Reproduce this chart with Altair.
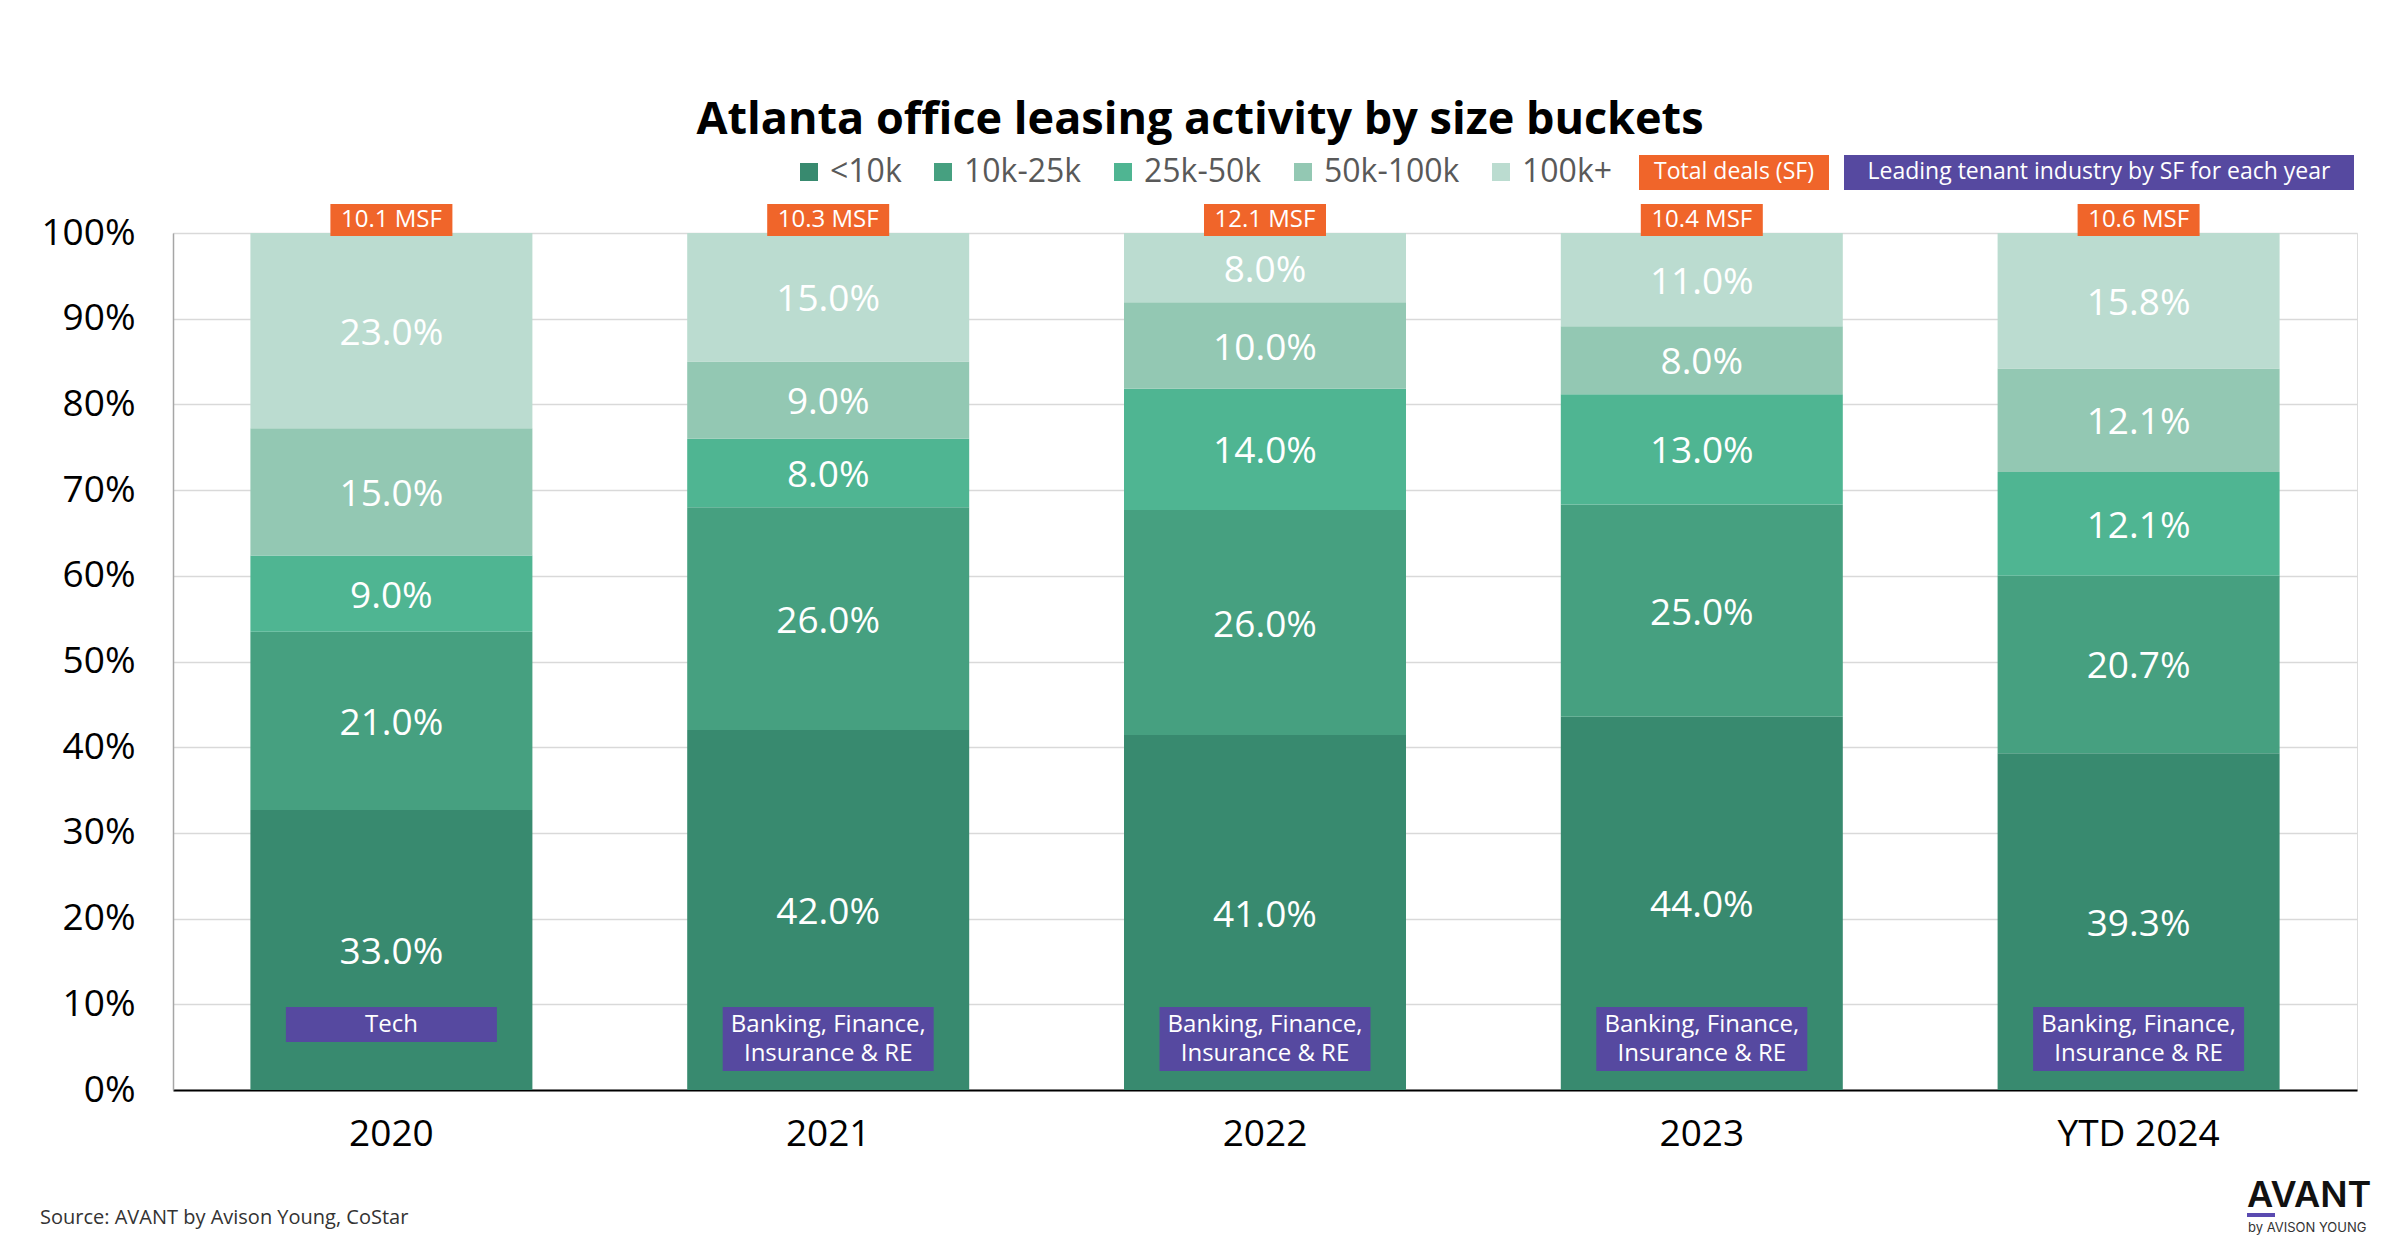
import altair as alt
import pandas as pd

years = ["2020", "2021", "2022", "2023", "YTD 2024"]
buckets = ["<10k", "10k-25k", "25k-50k", "50k-100k", "100k+"]
lt10k = [33.0, 42.0, 41.0, 44.0, 39.3]
k10_25 = [21.0, 26.0, 26.0, 25.0, 20.7]
k25_50 = [9.0, 8.0, 14.0, 13.0, 12.1]
k50_100 = [15.0, 9.0, 10.0, 8.0, 12.1]
k100_plus = [23.0, 15.0, 8.0, 11.0, 15.8]
total_deals = ["10.1 MSF", "10.3 MSF", "12.1 MSF", "10.4 MSF", "10.6 MSF"]
industries = [
    "Tech",
    "Banking, Finance,\nInsurance & RE",
    "Banking, Finance,\nInsurance & RE",
    "Banking, Finance,\nInsurance & RE",
    "Banking, Finance,\nInsurance & RE",
]
colors = ["#388A6F", "#46A080", "#4FB592", "#93C8B3", "#BBDCD0"]
ORANGE = "#F0652A"
PURPLE = "#5649A0"
title_text = "Atlanta office leasing activity by size buckets"
legend_notes = ["Total deals (SF)", "Leading tenant industry by SF for each year"]
source_text = ["Source: AVANT by Avison Young, CoStar"]
logo_text = ["AVANT", "by AVISON YOUNG"]

series = [lt10k, k10_25, k25_50, k50_100, k100_plus]
rows = []
for bi, (b, vals) in enumerate(zip(buckets, series)):
    for y, v in zip(years, vals):
        rows.append({"year": y, "bucket": b, "value": v, "idx": bi})
df = pd.DataFrame(rows)
ann = pd.DataFrame({"year": years, "deals": total_deals, "industry": industries})

FONT = "Open Sans"

xenc = alt.X(
    "year:N",
    sort=years,
    scale=alt.Scale(domain=years, paddingInner=0.355, paddingOuter=0.1775),
    axis=alt.Axis(
        title=None, labelAngle=0, labelFontSize=37, labelColor="#000000",
        labelFont=FONT, labelPadding=26, ticks=False, tickSize=0,
        domainColor="#000000", domainWidth=2, grid=False,
    ),
)

stacked = (
    alt.Chart(df)
    .transform_joinaggregate(total="sum(value)", groupby=["year"])
    .transform_calculate(pct="datum.value / datum.total")
    .transform_stack(
        stack="pct", groupby=["year"], as_=["y0", "y1"],
        sort=[alt.SortField("idx", order="ascending")],
    )
    .transform_calculate(
        mid="(datum.y0 + datum.y1) / 2",
        label="format(datum.value, '.1f') + '%'",
    )
)

bars = stacked.mark_bar(size=282).encode(
    x=xenc,
    y=alt.Y(
        "y0:Q",
        scale=alt.Scale(domain=[0, 1], nice=False),
        axis=alt.Axis(
            title=None, format=".0%", values=[i / 10 for i in range(11)],
            labelFontSize=37, labelColor="#000000", labelFont=FONT,
            labelPadding=38, ticks=False, tickSize=0,
            domainColor="#A6A6A6", domainWidth=1.5,
            gridColor="#D9D9D9", gridWidth=1.5,
        ),
    ),
    y2="y1:Q",
    color=alt.Color(
        "bucket:N",
        scale=alt.Scale(domain=buckets, range=colors),
        legend=alt.Legend(
            title=None, orient="none", legendX=620, legendY=-77,
            direction="horizontal", symbolType="square", symbolSize=324,
            symbolStrokeWidth=0, labelFontSize=32, labelColor="#595959",
            labelFont=FONT, columnPadding=25, labelOffset=5,
        ),
    ),
    order=alt.Order("idx:Q", sort="ascending"),
)

seg_labels = stacked.mark_text(
    color="white", fontSize=37, font=FONT, baseline="middle", dy=3
).encode(x=alt.X("year:N", sort=years), y="mid:Q", text="label:N")

abase = alt.Chart(ann)
deal_box = abase.mark_bar(size=122, color=ORANGE).encode(
    x=alt.X("year:N", sort=years), y=alt.value(-29), y2=alt.value(3)
)
deal_txt = abase.mark_text(color="white", fontSize=24, font=FONT, baseline="middle").encode(
    x=alt.X("year:N", sort=years), y=alt.value(-13), text="deals:N"
)

multi = "indexof(datum.industry, '\\n') >= 0"
single = "indexof(datum.industry, '\\n') < 0"
ind_box1 = abase.transform_filter(single).mark_bar(size=211, color=PURPLE).encode(
    x=alt.X("year:N", sort=years), y=alt.value(774), y2=alt.value(809)
)
ind_box2 = abase.transform_filter(multi).mark_bar(size=211, color=PURPLE).encode(
    x=alt.X("year:N", sort=years), y=alt.value(774), y2=alt.value(838)
)
ind_txt = abase.mark_text(
    color="white", fontSize=24, font=FONT, baseline="middle", lineBreak="\n", lineHeight=29
).encode(x=alt.X("year:N", sort=years), y=alt.value(792), text="industry:N")

n1 = alt.Chart(pd.DataFrame({"t": [legend_notes[0]]}))
n2 = alt.Chart(pd.DataFrame({"t": [legend_notes[1]]}))
note1_box = n1.mark_rect(color=ORANGE).encode(
    x=alt.value(1466), x2=alt.value(1656), y=alt.value(-78), y2=alt.value(-43)
)
note1_txt = n1.mark_text(color="white", fontSize=23, font=FONT, baseline="middle").encode(
    x=alt.value(1561), y=alt.value(-61), text="t:N"
)
note2_box = n2.mark_rect(color=PURPLE).encode(
    x=alt.value(1671), x2=alt.value(2181), y=alt.value(-78), y2=alt.value(-43)
)
note2_txt = n2.mark_text(color="white", fontSize=23, font=FONT, baseline="middle").encode(
    x=alt.value(1926), y=alt.value(-61), text="t:N"
)

src = alt.Chart(pd.DataFrame({"t": source_text})).mark_text(
    color="#333333", fontSize=20, font=FONT, align="left", baseline="middle"
).encode(x=alt.value(-133), y=alt.value(985), text="t:N")

logo1 = alt.Chart(pd.DataFrame({"t": [logo_text[0]]})).mark_text(
    color="#111111", fontSize=36, font="Inter", fontWeight=600, align="left", baseline="alphabetic"
).encode(x=alt.value(2074), y=alt.value(974), text="t:N")
logo_bar = alt.Chart(pd.DataFrame({"t": [logo_text[0]]})).mark_rect(color="#5A4AB0").encode(
    x=alt.value(2074), x2=alt.value(2102), y=alt.value(980), y2=alt.value(984)
)
logo2 = alt.Chart(pd.DataFrame({"t": [logo_text[1]]})).mark_text(
    color="#333333", fontSize=13, font="Inter", align="left", baseline="alphabetic"
).encode(x=alt.value(2075), y=alt.value(999), text="t:N")

chart = (
    alt.layer(
        bars, seg_labels, deal_box, deal_txt, ind_box1, ind_box2, ind_txt,
        note1_box, note1_txt, note2_box, note2_txt, src, logo1, logo_bar, logo2,
    )
    .properties(
        width=2184,
        height=857,
        autosize=alt.AutoSizeParams(type="none"),
        padding={"left": 165, "top": 225, "right": 20, "bottom": 150},
        title=alt.TitleParams(
            title_text, font=FONT, fontSize=45, fontWeight="bold", color="#000000",
            anchor="middle", dx=-65, offset=12,
        ),
    )
    .configure_view(stroke=None)
    .configure(background="white")
)

chart.save("out.html", embed_options={"renderer": "svg", "actions": False})
